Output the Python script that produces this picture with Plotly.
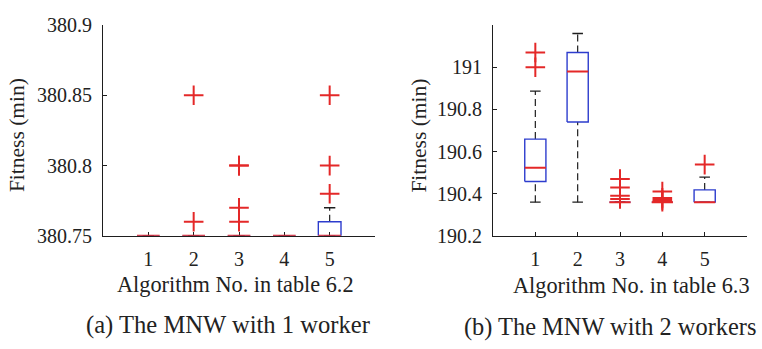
import plotly.graph_objects as go

W, H = 762, 349

# ---------- data: left panel (table 6.2, 1 worker) ----------
algos = [1, 2, 3, 4, 5]
L_lower = [380.75, 380.75, 380.75, 380.75, 380.75]
L_q1 = [380.75, 380.75, 380.75, 380.75, 380.75]
L_med = [380.75, 380.75, 380.75, 380.75, 380.75]
L_q3 = [380.75, 380.75, 380.75, 380.75, 380.76]
L_upper = [380.75, 380.75, 380.75, 380.75, 380.77]
L_out_x = [2, 2, 3, 3, 3, 3, 5, 5, 5]
L_out_y = [380.76, 380.85, 380.76, 380.77, 380.80, 380.80, 380.78, 380.80, 380.85]

# ---------- data: right panel (table 6.3, 2 workers) ----------
R_lower = [190.36, 190.36, 190.36, 190.36, 190.36]
R_q1 = [190.458, 190.74, 190.36, 190.36, 190.36]
R_med = [190.523, 190.98, 190.36, 190.36, 190.36]
R_q3 = [190.659, 191.07, 190.36, 190.36, 190.418]
R_upper = [190.887, 191.16, 190.36, 190.36, 190.479]
R_out_x = [1, 1, 3, 3, 3, 3, 4, 4, 4, 4, 5]
R_out_y = [191.0, 191.07, 190.47, 190.43, 190.39, 190.375,
           190.41, 190.38, 190.37, 190.362, 190.538]

L_yticks = [380.75, 380.8, 380.85, 380.9]
L_yticktext = ["380.75", "380.8", "380.85", "380.9"]
R_yticks = [190.2, 190.4, 190.6, 190.8, 191.0]
R_yticktext = ["190.2", "190.4", "190.6", "190.8", "191"]

BLUE = "rgb(45,60,205)"
RED = "rgb(228,40,40)"
BLACK = "rgb(30,30,30)"
FONT = "Liberation Serif, Times New Roman, serif"
BOXW = 0.25   # half width of box
CAPW = 0.125  # half width of whisker cap

fig = go.Figure()


def add_boxes(xs, lo, q1, med, q3, up, ox, oy, xa, ya):
    # whiskers (dashed)
    wx, wy = [], []
    for x, a, b, c, d in zip(xs, lo, q1, q3, up):
        wx += [x, x, None, x, x, None]
        wy += [a, b, None, c, d, None]
    fig.add_trace(go.Scatter(x=wx, y=wy, mode="lines", xaxis=xa, yaxis=ya,
                             line=dict(color=BLACK, width=1.2, dash="7px,4px"),
                             cliponaxis=False, showlegend=False, hoverinfo="skip"))
    # caps
    cx, cy = [], []
    for x, a, d in zip(xs, lo, up):
        cx += [x - CAPW, x + CAPW, None, x - CAPW, x + CAPW, None]
        cy += [a, a, None, d, d, None]
    fig.add_trace(go.Scatter(x=cx, y=cy, mode="lines", xaxis=xa, yaxis=ya,
                             line=dict(color=BLACK, width=1.3),
                             cliponaxis=False, showlegend=False, hoverinfo="skip"))
    # boxes
    bx, by = [], []
    for x, b, c in zip(xs, q1, q3):
        bx += [x - BOXW, x + BOXW, x + BOXW, x - BOXW, x - BOXW, None]
        by += [b, b, c, c, b, None]
    fig.add_trace(go.Scatter(x=bx, y=by, mode="lines", xaxis=xa, yaxis=ya,
                             line=dict(color=BLUE, width=1.4),
                             cliponaxis=False, showlegend=False, hoverinfo="skip"))
    # medians
    mx, my = [], []
    for x, m in zip(xs, med):
        mx += [x - BOXW, x + BOXW, None]
        my += [m, m, None]
    fig.add_trace(go.Scatter(x=mx, y=my, mode="lines", xaxis=xa, yaxis=ya,
                             line=dict(color=RED, width=2),
                             cliponaxis=False, showlegend=False, hoverinfo="skip"))
    # outliers
    fig.add_trace(go.Scatter(x=ox, y=oy, mode="markers", xaxis=xa, yaxis=ya,
                             marker=dict(symbol="cross-thin", size=14,
                                         line=dict(color=RED, width=2)),
                             cliponaxis=False, showlegend=False, hoverinfo="skip"))


add_boxes(algos, L_lower, L_q1, L_med, L_q3, L_upper, L_out_x, L_out_y, "x", "y")
add_boxes(algos, R_lower, R_q1, R_med, R_q3, R_upper, R_out_x, R_out_y, "x2", "y2")


def px_x(p):
    return p / W


def px_y(p):
    return 1 - p / H


axis_common = dict(showline=True, linecolor=BLACK, linewidth=1.2, showgrid=False,
                   zeroline=False, ticks="inside", ticklen=4, tickcolor=BLACK,
                   tickwidth=1, mirror=False, layer="below traces",
                   tickfont=dict(family=FONT, size=20, color="#222"))

fig.update_layout(
    width=W, height=H,
    margin=dict(l=0, r=0, t=0, b=0),
    paper_bgcolor="white", plot_bgcolor="white",
    showlegend=False,
    xaxis=dict(domain=[px_x(103), px_x(375)], range=[0, 6], tickvals=algos,
               anchor="y", ticklabelstandoff=5, **axis_common),
    yaxis=dict(domain=[px_y(240), px_y(15)], range=[380.75, 380.9],
               tickvals=L_yticks, ticktext=L_yticktext, anchor="x",
               ticklabelstandoff=6, **axis_common),
    xaxis2=dict(domain=[px_x(493), px_x(747)], range=[0, 6], tickvals=algos,
                anchor="y2", ticklabelstandoff=5, **axis_common),
    yaxis2=dict(domain=[px_y(240), px_y(15)], range=[190.2, 191.2],
                tickvals=R_yticks, ticktext=R_yticktext, anchor="x2",
                ticklabelstandoff=6, **axis_common),
)

texts = [
    ("Fitness (min)", 16.5, 133, 21.5, -90),
    ("Fitness (min)", 419, 133, 21.5, -90),
    ("Algorithm No. in table 6.2", 235, 292, 22.3, 0),
    ("Algorithm No. in table 6.3", 631, 293, 22.3, 0),
    ("(a) The MNW with 1 worker", 228, 335, 24.6, 0),
    ("(b) The MNW with 2 workers", 610, 337, 24.4, 0),
]
for t, x, y, s, ang in texts:
    fig.add_annotation(text=t, x=px_x(x), y=px_y(y), xref="paper", yref="paper",
                       xanchor="center", yanchor="middle", showarrow=False,
                       textangle=ang, font=dict(family=FONT, size=s, color="#222"))

fig.write_html("out.html")
